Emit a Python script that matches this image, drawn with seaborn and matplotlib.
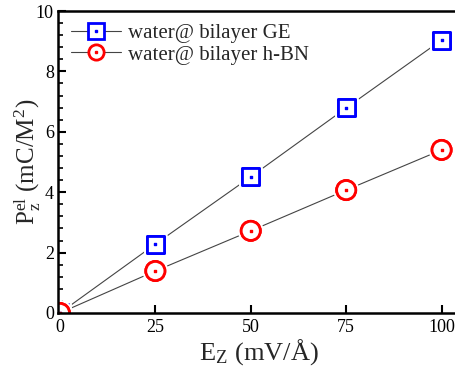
import pandas as pd
import seaborn as sns
import matplotlib.pyplot as plt
import matplotlib.patheffects as pe
from matplotlib.lines import Line2D

field = [0, 25, 50, 75, 100]
pol_ge = [0.0, 2.28, 4.51, 6.79, 9.04]
pol_hbn = [0.0, 1.39, 2.72, 4.07, 5.40]
labels = ['water@ bilayer GE', 'water@ bilayer h-BN']

df = pd.DataFrame({
    'E': field * 2,
    'P': pol_ge + pol_hbn,
    'system': [labels[0]] * len(field) + [labels[1]] * len(field),
})

sns.set_style('ticks', {'axes.edgecolor': 'black', 'xtick.color': 'black', 'ytick.color': 'black'})
plt.rcParams['font.family'] = ['Liberation Serif', 'DejaVu Serif']
plt.rcParams['mathtext.fontset'] = 'stix'

fig = plt.figure(figsize=(4.55, 3.76), dpi=100)
ax = fig.add_axes([0.1275, 0.1676, 0.885, 0.8031])

# thin connecting lines
sns.lineplot(data=df, x='E', y='P', hue='system', palette=['#444444', '#444444'],
             lw=0.8, legend=False, ax=ax, zorder=1)

colors = {labels[0]: '#0000ff', labels[1]: '#ff0000'}
marks = {labels[0]: 's', labels[1]: 'o'}
sizes = {labels[0]: 150, labels[1]: 190}
for lab in labels:
    sub = df[df.system == lab]
    sc = ax.scatter(sub.E, sub.P, marker=marks[lab], s=sizes[lab], facecolor='white',
                    edgecolor=colors[lab], linewidth=2.0, zorder=3)
    sc.set_path_effects([pe.withStroke(linewidth=5, foreground='white'), pe.Normal()])
    ax.scatter(sub.E, sub.P, marker='s', s=4, color=colors[lab], zorder=4)

ax.set_xlim(-0.5, 105.0)
ax.set_ylim(0, 10)
ax.set_xticks([0, 25, 50, 75, 100])
ax.set_yticks([0, 2, 4, 6, 8, 10])
ax.set_yticks([i * 0.4 for i in range(26)], minor=True)
ax.tick_params(axis='both', which='major', direction='in', length=6, width=1.5,
               labelsize=13, pad=4)
ax.tick_params(axis='y', which='major', pad=3)
ax.tick_params(axis='y', which='minor', direction='in', length=3.5, width=1.2)
for s in ax.spines.values():
    s.set_linewidth(1.8)
    s.set_zorder(5)

ax.set_xlabel('E$_\\mathregular{Z}$ (mV/Å)', fontsize=19, labelpad=1)
ax.set_ylabel('$\\mathregular{P_z^{el}}$ (mC/M$^\\mathregular{2}$)', fontsize=18, labelpad=-5)

handles = []
for lab in labels:
    h1 = Line2D([], [], color='#444444', lw=0.8, marker=marks[lab], markersize=11,
                mfc='white', mec=colors[lab], mew=2.0)
    h2 = Line2D([], [], ls='none', marker='s', markersize=2, color=colors[lab])
    handles.append((h1, h2))
ax.legend(handles, labels, loc='upper left', frameon=False, fontsize=15,
          handlelength=2.4, handletextpad=0.35, labelspacing=0.1,
          bbox_to_anchor=(0.0, 1.0), borderaxespad=0.2)

fig.savefig('out.png', dpi=100)
